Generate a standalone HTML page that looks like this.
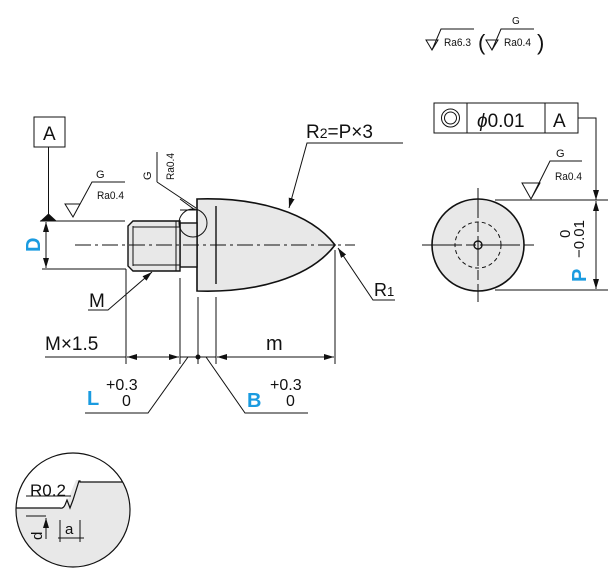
<!DOCTYPE html>
<html><head><meta charset="utf-8"><style>
html,body{margin:0;padding:0;background:#fff}
svg{display:block}
text{font-family:"Liberation Sans",sans-serif;fill:#111}
.b{fill:#1a9be0;font-weight:bold}
</style></head><body>
<svg width="612" height="578" viewBox="0 0 612 578" xmlns="http://www.w3.org/2000/svg">
<defs>
<marker id="ar" viewBox="0 0 10 6" refX="10" refY="3" markerWidth="10" markerHeight="6" orient="auto-start-reverse" markerUnits="userSpaceOnUse"><path d="M0,0 L10,3 L0,6z" fill="#111"/></marker>
</defs>
<g stroke="#111" fill="none" stroke-width="1">
<!-- top roughness -->
<path d="M426,40 L438,40 L432,50 Z M432,50 L441,29 L474,29"/>
<path d="M486,40 L498,40 L492,50 Z M492,50 L501,29 L534,29"/>
<!-- datum A -->
<rect x="34" y="117" width="31" height="30"/>
<line x1="48.5" y1="147" x2="48.5" y2="214"/>
<path d="M41,221 L48.5,214 L56,221z" fill="#111"/>
<!-- D dim -->
<line x1="40" y1="221" x2="125" y2="221"/>
<line x1="42" y1="269" x2="126" y2="269"/>
<line x1="126" y1="269" x2="126" y2="364"/>
<line x1="46" y1="222" x2="46" y2="268" marker-start="url(#ar)" marker-end="url(#ar)"/>
<!-- left roughness -->
<path d="M65,204 L80,204 L73,217 Z M73,217 L92,182 L125,182"/>
<!-- vertical roughness -->
<path d="M157,182 L157,152 M157,182 L196,208 M180,199 L195,210 L180,210"/>
<!-- part body -->
<path d="M197,199 C255,197 310,212 335,245 C310,278 255,293 197,291 Z" fill="#e8e8e8" stroke-width="1.6"/>
<rect x="180" y="223" width="17" height="44" fill="#e8e8e8" stroke-width="1.4"/>
<path d="M133,221 L180,221 L180,271 L133,271 L128,266 L128,226 Z" fill="#e8e8e8" stroke-width="1.4"/>
<line x1="133" y1="226" x2="133" y2="266"/>
<line x1="133" y1="227" x2="180" y2="227"/>
<line x1="133" y1="265" x2="180" y2="265"/>
<line x1="176" y1="221" x2="176" y2="271"/>
<line x1="216" y1="206" x2="216" y2="284" stroke-width="1.4"/>
<circle cx="193" cy="223" r="14"/>
<line x1="75" y1="245" x2="355" y2="245" stroke-dasharray="16,4,3,4"/>
<!-- M leader -->
<path d="M88,310 L108,310 L152,272" marker-end="url(#ar)"/>
<!-- extension lines -->
<line x1="180" y1="278" x2="180" y2="364"/>
<line x1="198" y1="297" x2="198" y2="364"/>
<line x1="216" y1="297" x2="216" y2="364"/>
<line x1="335" y1="250" x2="335" y2="364"/>
<!-- dim line -->
<line x1="45" y1="357" x2="126" y2="357"/>
<line x1="127" y1="357" x2="179" y2="357" marker-start="url(#ar)" marker-end="url(#ar)"/>
<line x1="180" y1="357" x2="216" y2="357"/>
<line x1="217" y1="357" x2="334" y2="357" marker-start="url(#ar)" marker-end="url(#ar)"/>
<circle cx="198" cy="357" r="2" fill="#111"/>
<path d="M85,413 L148,413 L188,357"/>
<path d="M308,413 L245,413 L206,357"/>
<!-- R2 / R1 leaders -->
<path d="M403,143 L307,143 L289,208" marker-end="url(#ar)"/>
<path d="M395,300 L373,300 L338,248" marker-end="url(#ar)"/>
<!-- FCF -->
<rect x="434" y="103" width="144" height="30"/>
<line x1="467" y1="103" x2="467" y2="133"/>
<line x1="545" y1="103" x2="545" y2="133"/>
<circle cx="450.5" cy="118" r="9"/><circle cx="450.5" cy="118" r="6"/>
<path d="M578,118 L596,118 L596,200" marker-end="url(#ar)"/>
<!-- right roughness -->
<path d="M522,183 L540,183 L531,199 Z M531,199 L550,161 L582,161"/>
<!-- right view -->
<circle cx="478" cy="245" r="46" fill="#e8e8e8" stroke-width="1.6"/>
<circle cx="478" cy="245" r="23" stroke-dasharray="4,3"/>
<circle cx="478" cy="245" r="4" stroke-width="1.4"/>
<line x1="422" y1="245" x2="535" y2="245" stroke-dasharray="40,4,10,4"/>
<line x1="478" y1="188" x2="478" y2="302" stroke-dasharray="30,4,10,4"/>
<line x1="495" y1="200" x2="608" y2="200"/>
<line x1="495" y1="290" x2="608" y2="290"/>
<line x1="596" y1="201" x2="596" y2="289" marker-start="url(#ar)" marker-end="url(#ar)"/>
<!-- detail circle -->
<clipPath id="cc"><circle cx="73" cy="510" r="57"/></clipPath>
<g clip-path="url(#cc)">
<path d="M10,508 L60,508 Q64,508 66,504 L76,480 L80,480 L80,482 L130,482 L130,580 L10,580 Z" fill="#e8e8e8" stroke="none"/>
<path d="M10,508 L60,508 Q63,509 65,505 L67,500 L70,508 L73,500 L79,481 L80,481 L80,482 L130,482" stroke-width="1.2"/>
<path d="M26,496 L71,496"/>
<path d="M26,516 L46,516 M46,539 L46,518" marker-end="url(#ar)"/>
<line x1="60" y1="520" x2="60" y2="542"/>
<line x1="80" y1="520" x2="80" y2="542"/>
<line x1="58" y1="538" x2="84" y2="538"/>
</g>
<circle cx="73" cy="510" r="57" stroke-width="1.2"/>
</g>
<!-- texts -->
<g font-size="11">
<text x="444" y="46" textLength="27" lengthAdjust="spacingAndGlyphs">Ra6.3</text>
<text x="504" y="46" textLength="27" lengthAdjust="spacingAndGlyphs">Ra0.4</text>
<text x="512" y="24" font-size="10">G</text>
<text x="96" y="178" font-size="11">G</text>
<text x="97" y="199" textLength="27" lengthAdjust="spacingAndGlyphs">Ra0.4</text>
<text x="556" y="157">G</text>
<text x="555" y="180" textLength="27" lengthAdjust="spacingAndGlyphs">Ra0.4</text>
<text transform="translate(151,180) rotate(-90)">G</text>
<text transform="translate(174,180) rotate(-90)" textLength="27" lengthAdjust="spacingAndGlyphs">Ra0.4</text>
</g>
<text x="478" y="50" font-size="22">(</text>
<text x="537" y="50" font-size="22">)</text>
<text x="43" y="140" font-size="19">A</text>
<text x="306" y="138" font-size="19">R<tspan font-size="14">2</tspan>=P×3</text>
<text x="374" y="296" font-size="18">R<tspan font-size="13">1</tspan></text>
<text x="89" y="307" font-size="19">M</text>
<text x="45" y="350" font-size="19">M×1.5</text>
<text x="266" y="350" font-size="20">m</text>
<text x="477" y="127" font-size="19"><tspan font-style="italic">ϕ</tspan>0.01</text>
<text x="553" y="127" font-size="19">A</text>
<text class="b" x="87" y="405" font-size="20">L</text>
<text x="106" y="390" font-size="16">+0.3</text>
<text x="122" y="406" font-size="16">0</text>
<text class="b" x="247" y="407" font-size="20">B</text>
<text x="270" y="390" font-size="16">+0.3</text>
<text x="286" y="406" font-size="16">0</text>
<text class="b" transform="translate(40,252) rotate(-90)" font-size="20">D</text>
<text class="b" transform="translate(586,282) rotate(-90)" font-size="20">P</text>
<text transform="translate(570,238) rotate(-90)" font-size="15">0</text>
<text transform="translate(584,258) rotate(-90)" font-size="15">−0.01</text>
<text x="30" y="496" font-size="17">R0.2</text>
<text x="65" y="534" font-size="15">a</text>
<text transform="translate(42,540) rotate(-90)" font-size="15">d</text>
</svg>
</body></html>
